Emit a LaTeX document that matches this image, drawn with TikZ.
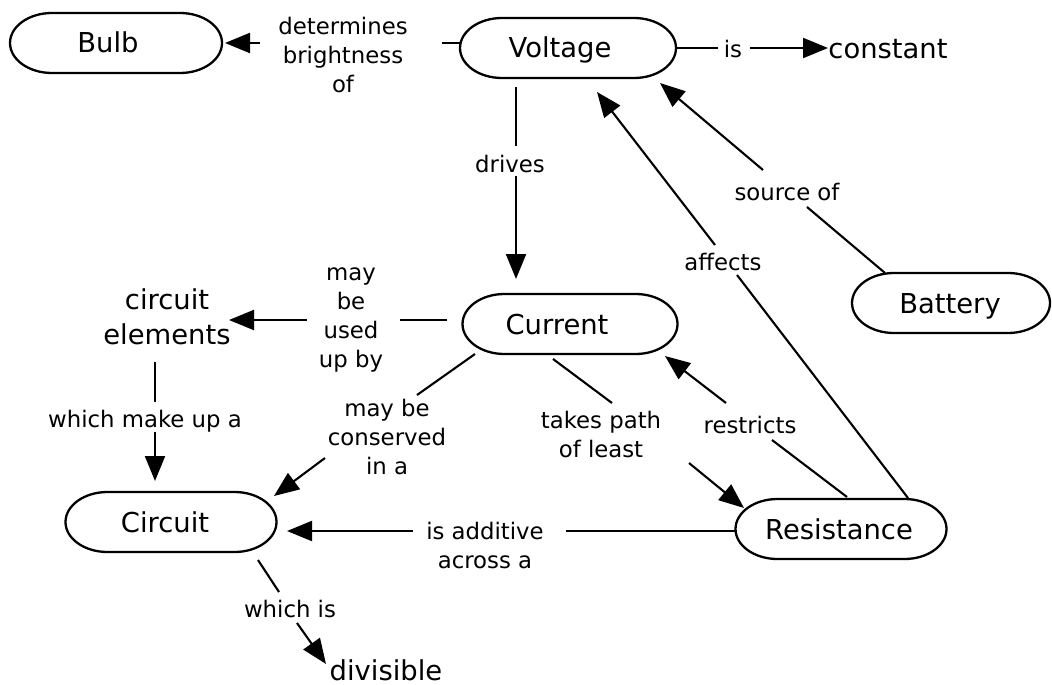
\documentclass[tikz,border=0pt]{standalone}
\usepackage{fontspec}
\setmainfont{DejaVu Sans}
\usetikzlibrary{arrows.meta,calc}
\newcommand\nodefont{\fontsize{13.7pt}{17.5pt}\selectfont}
\newcommand\linkfont{\fontsize{11.4pt}{14.5pt}\selectfont}
\tikzset{
  concept/.style={inner sep=0pt, font=\nodefont, anchor=base},
  plain/.style={inner sep=0pt, font=\nodefont, align=center},
  lbl/.style={inner sep=0pt, font=\linkfont, align=center},
  lblb/.style={inner sep=0pt, font=\linkfont, anchor=base},
  link/.style={line width=1.05pt},
  arr/.style={line width=1.05pt, -{Triangle[length=12.5pt,width=10pt]}},
  pillline/.style={line width=1.15pt},
}
% #1 node name, #2 x offset of box centre from text centre (px), #3 box width (px), #4 y offset of box centre from baseline (px)
\newcommand\pill[4]{%
  \draw[pillline] ($(#1.base)+(#2-#3/2+42,#4-30)$) -- ($(#1.base)+(#2+#3/2-42,#4-30)$)
    arc[start angle=90,end angle=-90,x radius=21pt,y radius=15pt]
    -- ($(#1.base)+(#2-#3/2+42,#4+30)$)
    arc[start angle=270,end angle=90,x radius=21pt,y radius=15pt] -- cycle;}
\begin{document}
\begin{tikzpicture}[x=0.5pt,y=-0.5pt]
\path[use as bounding box, fill=white] (0,0) rectangle (1052,684);

% concepts
\node[concept] (bulb) at (108,53) {Bulb};
\node[concept] (voltage) at (560,58) {Voltage};
\node[concept] (current) at (557,334) {Current};
\node[concept] (battery) at (950,313) {Battery};
\node[concept] (resistance) at (839,539) {Resistance};
\node[concept] (circuit) at (165,532) {Circuit};
\pill{bulb}{8}{212}{-10}
\pill{voltage}{8}{216}{-10}
\pill{current}{13}{215}{-10}
\pill{battery}{1}{198}{-10}
\pill{resistance}{2}{211}{-10}
\pill{circuit}{6}{211}{-10}

\node[concept] (constant) at (888,59) {constant};
\node[plain] (elements) at (167,317) {circuit\\elements};
\node[concept] (divisible) at (386,680) {divisible};

% link labels
\node[lbl] (l1) at (343,55) {determines\\brightness\\of};
\node[lblb] (l2) at (733,58) {is};
\node[lblb] (l3) at (510,172) {drives};
\node[lblb] (l4) at (787,200) {source of};
\node[lblb] (l5) at (723,270) {affects};
\node[lbl] (l6) at (351,320) {may\\be\\used\\up by};
\node[lblb] (l7) at (145,427) {which make up a};
\node[lbl] (l8) at (387,437) {may be\\conserved\\in a};
\node[lbl] (l9) at (601,434) {takes path\\of least};
\node[lblb] (l10) at (750,433) {restricts};
\node[lbl] (l11) at (485,545) {is additive\\across a};
\node[lblb] (l12) at (290,617) {which is};

% connectors
\draw[link] (460,43) -- (442,43);
\draw[arr] (260,43) -- (225,43);

\draw[link] (677,48) -- (718,48);
\draw[arr] (750,48) -- (828,48);

\draw[link] (516,87) -- (516,146);
\draw[arr] (516,176) -- (516,279);

\draw[link] (885,273) -- (807,207);
\draw[arr] (763,170) -- (660,83);

\draw[link] (908,498) -- (737,275);
\draw[arr] (715,245) -- (597,92);

\draw[link] (447,320) -- (400,320);
\draw[arr] (307,320) -- (229,320);

\draw[link] (155,362) -- (155,402);
\draw[arr] (155,432) -- (155,481);

\draw[link] (475,354) -- (417,395);
\draw[arr] (325,458) -- (274,496);

\draw[link] (553,359) -- (612,403);
\draw[arr] (689,463) -- (744,508);

\draw[link] (847,497) -- (772,440);
\draw[arr] (726,403) -- (665,356);

\draw[link] (735,531) -- (566,531);
\draw[arr] (413,531) -- (287,531);

\draw[link] (258,560) -- (279,592);
\draw[arr] (297,623) -- (326,664);
\end{tikzpicture}
\end{document}
